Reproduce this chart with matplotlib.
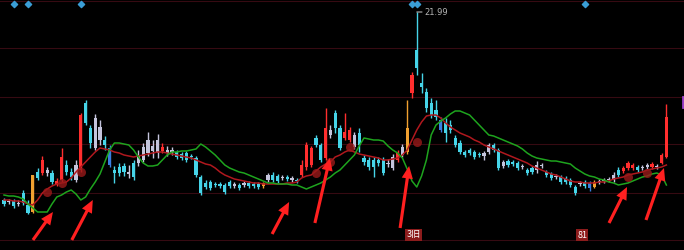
import matplotlib
matplotlib.use('Agg')
import matplotlib.pyplot as plt
import numpy as np

# ---------------- data (prices) ----------------
OPEN = [12.59, 12.54, 12.54, 12.44, 12.94, 12.34, 11.99, 13.99, 13.94, 14.09,
        13.94, 13.39, 13.59, 14.34, 13.99, 14.34, 14.09, 17.44, 16.19, 16.69,
        16.24, 15.59, 15.19, 14.09, 14.24, 14.29, 13.99, 14.44, 14.84, 15.24,
        15.59, 15.29, 15.59, 15.04, 15.09, 15.09, 14.99, 14.89, 14.94, 14.79,
        14.69, 13.74, 13.44, 13.49, 13.39, 13.39, 13.34, 13.49, 13.39, 13.34,
        13.44, 13.44, 13.39, 13.39, 13.29, 13.84, 13.84, 13.79, 13.74, 13.74,
        13.69, 13.59, 13.84, 14.24, 14.34, 15.69, 15.34, 14.69, 16.09, 16.94,
        16.19, 15.69, 15.59, 15.84, 15.94, 14.69, 14.59, 14.59, 14.59, 14.59,
        14.44, 14.74, 14.59, 15.24, 14.99, 17.94, 20.09, 18.44, 17.99, 17.44,
        17.09, 16.59, 16.44, 16.34, 15.69, 15.44, 14.99, 15.09, 14.99, 14.89,
        14.94, 14.99, 15.34, 15.09, 14.49, 14.54, 14.49, 14.44, 14.29, 14.09,
        14.19, 14.34, 14.34, 13.99, 13.89, 13.79, 13.74, 13.69, 13.59, 13.24,
        13.44, 13.49, 13.44, 13.24, 13.54, 13.59, 13.64, 13.84, 14.09, 14.04,
        14.19, 14.19, 14.24, 14.24, 14.34, 14.24, 14.29, 14.44, 14.74]
CLOSE = [12.39, 12.49, 12.29, 12.41, 12.44, 11.94, 13.84, 13.69, 14.59, 13.94,
         13.49, 13.54, 14.74, 13.99, 13.74, 13.59, 16.84, 16.44, 15.44, 15.19,
         15.59, 15.34, 14.34, 13.94, 13.94, 13.99, 13.89, 13.74, 14.44, 14.59,
         14.94, 15.04, 14.94, 15.24, 14.94, 14.99, 14.74, 14.69, 14.59, 14.74,
         13.84, 12.94, 13.24, 13.19, 13.34, 13.29, 12.99, 13.29, 13.29, 13.19,
         13.34, 13.29, 13.29, 13.24, 13.44, 13.59, 13.59, 13.54, 13.69, 13.64,
         13.59, 13.54, 14.34, 15.34, 15.19, 15.34, 14.59, 16.19, 15.84, 16.19,
         15.19, 15.99, 16.09, 15.24, 15.34, 14.49, 14.24, 14.24, 14.44, 13.94,
         14.39, 14.19, 14.94, 14.84, 16.19, 18.84, 19.19, 18.24, 17.19, 16.84,
         16.74, 16.09, 15.94, 16.09, 15.34, 14.99, 14.84, 14.94, 14.74, 14.84,
         14.79, 15.34, 15.09, 14.19, 14.29, 14.34, 14.39, 14.19, 14.24, 13.94,
         13.99, 14.09, 14.29, 13.84, 13.69, 13.74, 13.49, 13.49, 13.34, 12.94,
         13.39, 13.29, 13.19, 13.49, 13.49, 13.54, 13.59, 13.59, 13.84, 14.19,
         14.44, 14.34, 14.09, 14.19, 14.24, 14.39, 14.24, 14.84, 16.74]
HIGH = [12.69, 12.64, 12.64, 12.59, 13.09, 12.59, 13.84, 14.19, 14.79, 14.24,
        14.09, 13.69, 15.19, 14.59, 14.19, 14.59, 16.94, 17.59, 16.34, 16.89,
        16.59, 15.79, 15.34, 14.29, 14.44, 14.44, 14.34, 14.59, 15.09, 15.44,
        15.99, 15.59, 15.89, 15.44, 15.29, 15.24, 15.09, 14.99, 15.04, 14.89,
        14.79, 13.84, 13.59, 13.59, 13.49, 13.49, 13.44, 13.59, 13.49, 13.44,
        13.54, 13.54, 13.49, 13.49, 13.49, 13.94, 13.99, 13.89, 13.84, 13.84,
        13.79, 13.69, 14.59, 15.49, 15.29, 15.84, 15.44, 17.19, 16.34, 17.09,
        16.34, 16.94, 16.24, 15.99, 16.19, 14.84, 14.74, 14.74, 14.74, 14.74,
        14.64, 14.89, 15.09, 15.39, 17.59, 18.99, 21.99, 18.94, 18.19, 17.69,
        17.59, 16.74, 16.69, 16.59, 15.84, 15.59, 15.09, 15.19, 15.09, 14.99,
        15.04, 15.44, 15.44, 15.19, 14.59, 14.64, 14.59, 14.54, 14.39, 14.19,
        14.29, 14.54, 14.44, 14.09, 13.99, 13.89, 13.84, 13.79, 13.69, 13.34,
        13.54, 13.59, 13.54, 13.59, 13.64, 13.69, 13.74, 13.99, 14.24, 14.29,
        14.54, 14.44, 14.34, 14.34, 14.44, 14.49, 14.39, 14.94, 17.39]
LOW = [12.29, 12.39, 12.19, 12.29, 12.34, 11.89, 11.94, 13.59, 13.84, 13.79,
       13.39, 13.29, 13.49, 13.84, 13.59, 13.49, 13.99, 16.34, 15.19, 15.09,
       15.34, 15.09, 14.24, 13.44, 13.79, 13.79, 13.69, 13.59, 14.29, 14.49,
       14.79, 14.69, 14.69, 14.94, 14.79, 14.84, 14.64, 14.59, 14.49, 14.64,
       13.74, 12.84, 13.14, 13.09, 13.24, 13.19, 12.89, 13.19, 13.19, 13.09,
       13.24, 13.19, 13.19, 13.14, 13.19, 13.49, 13.49, 13.44, 13.59, 13.54,
       13.49, 13.44, 13.74, 14.09, 14.24, 15.24, 14.49, 14.59, 15.69, 15.94,
       15.09, 15.59, 15.49, 15.14, 14.99, 14.34, 14.09, 13.74, 14.29, 13.84,
       14.24, 14.09, 14.49, 14.74, 14.89, 17.69, 18.84, 17.94, 16.99, 16.69,
       16.59, 15.99, 15.49, 15.94, 15.24, 14.89, 14.74, 14.84, 14.64, 14.74,
       14.59, 14.89, 14.99, 14.09, 14.19, 14.24, 14.29, 14.09, 14.14, 13.84,
       13.89, 13.94, 14.19, 13.74, 13.59, 13.64, 13.39, 13.39, 13.24, 12.84,
       13.29, 13.19, 13.04, 13.19, 13.39, 13.44, 13.49, 13.49, 13.74, 13.94,
       14.09, 14.09, 13.99, 14.09, 14.14, 14.14, 14.14, 14.39, 14.69]
MA_RED = [12.59, 12.59, 12.54, 12.54, 12.49, 12.39, 12.34, 12.59, 12.94, 13.14,
          13.29, 13.39, 13.44, 13.49, 13.69, 13.99, 14.24, 14.49, 14.74, 14.99,
          15.19, 15.14, 15.09, 14.99, 14.94, 14.84, 14.79, 14.74, 14.79, 14.84,
          14.89, 14.94, 14.99, 14.99, 14.94, 14.89, 14.84, 14.79, 14.74, 14.69,
          14.59, 14.49, 14.39, 14.34, 14.19, 13.99, 13.84, 13.74, 13.64, 13.59,
          13.54, 13.49, 13.44, 13.44, 13.39, 13.39, 13.39, 13.39, 13.39, 13.44,
          13.44, 13.49, 13.69, 13.79, 13.84, 14.04, 14.24, 14.39, 14.49, 14.74,
          14.84, 14.99, 15.09, 14.99, 14.89, 14.84, 14.79, 14.74, 14.69, 14.59,
          14.59, 14.64, 14.69, 14.84, 15.09, 15.59, 16.09, 16.49, 16.79, 16.84,
          16.84, 16.69, 16.44, 16.24, 16.09, 15.94, 15.84, 15.74, 15.59, 15.49,
          15.34, 15.24, 15.14, 15.04, 14.94, 14.84, 14.74, 14.64, 14.54, 14.44,
          14.29, 14.19, 14.09, 13.99, 13.89, 13.84, 13.74, 13.64, 13.54, 13.49,
          13.49, 13.44, 13.44, 13.44, 13.49, 13.49, 13.54, 13.64, 13.69, 13.74,
          13.84, 13.89, 13.94, 13.99, 14.09, 14.14, 14.19, 14.24, 14.34]
LINE_GREEN = [12.84, 12.79, 12.79, 12.74, 12.64, 12.39, 12.19, 11.99, 11.99, 11.99,
              12.39, 12.74, 12.84, 12.99, 13.09, 12.89, 12.59, 12.74, 13.14, 13.49,
              13.89, 14.49, 15.09, 15.44, 15.44, 15.39, 15.34, 15.09, 14.74, 14.44,
              14.29, 14.29, 14.34, 14.59, 14.84, 14.99, 14.99, 15.04, 15.04, 15.09,
              15.14, 15.39, 15.24, 15.04, 14.84, 14.59, 14.34, 14.19, 14.09, 13.99,
              13.94, 13.84, 13.74, 13.64, 13.54, 13.44, 13.44, 13.39, 13.39, 13.39,
              13.34, 13.34, 13.24, 13.14, 13.24, 13.34, 13.44, 13.59, 13.74, 13.94,
              14.09, 14.34, 14.59, 14.84, 15.29, 15.69, 15.64, 15.59, 15.59, 15.54,
              15.29, 15.09, 14.94, 14.69, 14.14, 13.54, 13.24, 13.79, 14.59, 15.84,
              16.34, 16.54, 16.69, 16.89, 17.04, 17.04, 16.94, 16.84, 16.59, 16.34,
              16.09, 15.84, 15.79, 15.69, 15.59, 15.49, 15.39, 15.29, 15.14, 14.94,
              14.79, 14.69, 14.64, 14.59, 14.54, 14.54, 14.49, 14.44, 14.39, 14.19,
              14.04, 13.89, 13.79, 13.74, 13.64, 13.59, 13.49, 13.44, 13.34, 13.39,
              13.44, 13.54, 13.64, 13.74, 13.79, 13.89, 13.94, 13.84, 13.34]
HIGH_LABEL = "21.99"
GRID_LEVELS = [22.54, 20.19, 17.74, 15.39, 12.94, 10.59]
MARKER_DAYS = [2, 5, 16, 85, 86, 121]          # blue diamonds along the top
SIGNAL_POINTS = [(9, 12.99), (12, 13.44), (16, 13.99), (65, 13.94), (68, 14.49),
                 (72, 15.24), (86, 15.49), (130, 13.74), (134, 13.94)]
ARROW_TARGETS = [(10.2, 11.99), (18.5, 12.59), (59.4, 12.49), (67.9, 14.69),
                 (84.4, 14.29), (129.8, 13.24), (137.5, 14.19)]
ARROW_TAILS_PX = [(-20, -28), (-21, -40), (-17, -32), (-15, -65), (-9, -62),
                  (-18, -36), (-18, -52)]
EVENT_TAGS = [(85.3, "3旧"), (120.5, "81")]

# ---------------- styles ----------------
UP = '#ff2e2e'
DOWN = '#46d4e8'
GREY = '#c4c4dc'
ORANGE = '#f0a030'
BLUE = '#3a7ee0'
SPECIAL = {}
for k in [1, 3, 9, 15, 19, 20, 26, 28, 29, 30, 31, 32, 34, 35, 48, 50, 55, 58, 60,
          68, 73, 80, 81, 83, 100, 101, 104, 108, 111, 112, 115, 120, 124, 125,
          126, 127, 133, 134, 136]:
    SPECIAL[k] = GREY
for k in [6, 54, 84, 123]:
    SPECIAL[k] = ORANGE
for k in [22, 91, 122]:
    SPECIAL[k] = BLUE

plt.rcParams['font.family'] = ['DejaVu Sans', 'Noto Sans CJK SC']

o = np.array(OPEN); c = np.array(CLOSE); h = np.array(HIGH); l = np.array(LOW)
n = len(o)
idx = np.arange(n)
cols = []
for i in range(n):
    if i in SPECIAL:
        cols.append(SPECIAL[i])
    elif c[i] >= o[i]:
        cols.append(UP)
    else:
        cols.append(DOWN)

fig = plt.figure(figsize=(6.84, 2.5), dpi=100, facecolor='black')
ax = fig.add_axes([0, 0, 1, 1])
ax.set_facecolor('black')
for s in ax.spines.values():
    s.set_visible(False)
ax.set_xticks([]); ax.set_yticks([])
ax.set_xlim(-0.83, 141.67)
ax.set_ylim(10.09, 22.59)

for g in GRID_LEVELS:
    ax.axhline(g, color='#360a12', lw=0.8, zorder=0)

ax.vlines(idx, l, h, colors=cols, lw=1.0, zorder=2)
body = np.maximum(np.abs(c - o), 0.05)
ax.bar(idx, body, bottom=np.minimum(o, c), width=0.64, color=cols, linewidth=0, zorder=3)

ax.plot(idx, MA_RED, color='#b0181e', lw=1.1, zorder=4)
ax.plot(idx, LINE_GREEN, color='#1ea41e', lw=1.1, zorder=4)

# signal blobs
for xi, yi in SIGNAL_POINTS:
    ax.plot(xi, yi, 'o', ms=6.5, color='#9a1a1a', alpha=0.8, zorder=5, mec='none')

# top markers
ax.scatter(MARKER_DAYS, [22.39] * len(MARKER_DAYS), marker='D', s=10,
           color='#3a9ed6', zorder=6)

# high label
hi = int(np.argmax(h))
ax.annotate(HIGH_LABEL, xy=(hi, h[hi]), xytext=(8, 0), textcoords='offset pixels',
            color='#b4b4b4', fontsize=6, va='center', ha='left',
            arrowprops=dict(arrowstyle='-', color='#b4b4b4', lw=0.8,
                            shrinkA=0, shrinkB=0))

# red arrows
for (tx, ty), (dx, dy) in zip(ARROW_TARGETS, ARROW_TAILS_PX):
    ax.annotate('', xy=(tx, ty), xytext=(dx, dy), textcoords='offset pixels',
                arrowprops=dict(arrowstyle='simple,head_length=1.0,head_width=0.9,tail_width=0.25',
                                color='#ff2020', lw=0, mutation_scale=9,
                                shrinkA=0, shrinkB=0), zorder=7)

# event tags
for xi, txt in EVENT_TAGS:
    ax.text(xi, 10.84, txt, color='white', fontsize=6.5, ha='center', va='center',
            family=['Noto Sans CJK SC', 'DejaVu Sans'],
            bbox=dict(boxstyle='square,pad=0.12', fc='#8c1c1c', ec='none'), zorder=8)

# small purple mark at right edge
ax.plot([141.4, 141.4], [17.24, 17.74], color='#9a40c8', lw=2, zorder=6)

fig.savefig('out.png', dpi=100, facecolor='black')
